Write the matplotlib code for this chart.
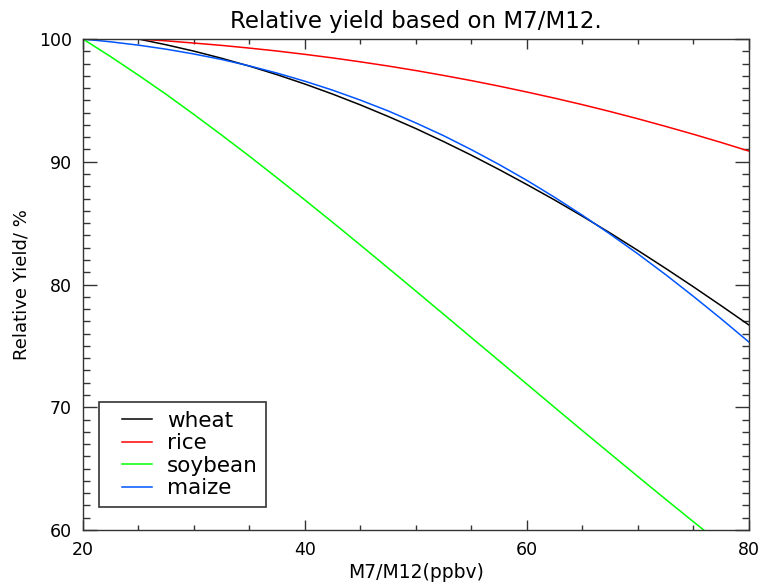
import numpy as np
import matplotlib
matplotlib.use('Agg')
from matplotlib import pyplot as plt
from matplotlib.ticker import MultipleLocator
from matplotlib.legend_handler import HandlerLine2D

# relative yield (%) vs. M7/M12 ozone metric (ppbv), every 2.5 ppbv
m_wheat = [25, 27.5, 30, 32.5, 35, 37.5, 40, 42.5, 45, 47.5, 50, 52.5,
           55, 57.5, 60, 62.5, 65, 67.5, 70, 72.5, 75, 77.5, 80]
y_wheat = [100.00, 99.53, 99.01, 98.43, 97.79, 97.09, 96.33, 95.51, 94.63, 93.69, 92.70, 91.64,
           90.53, 89.36, 88.14, 86.88, 85.56, 84.19, 82.77, 81.31, 79.81, 78.27, 76.70]

m_rice = m_wheat
y_rice = [100.00, 99.85, 99.67, 99.48, 99.26, 99.02, 98.75, 98.46, 98.14, 97.80, 97.43, 97.03,
          96.61, 96.16, 95.68, 95.18, 94.65, 94.09, 93.50, 92.88, 92.24, 91.57, 90.87]

m_soy = [20, 22.5, 25, 27.5, 30, 32.5, 35, 37.5, 40, 42.5, 45, 47.5, 50, 52.5,
         55, 57.5, 60, 62.5, 65, 67.5, 70, 72.5, 75, 77.5, 80]
y_soy = [100.00, 98.56, 97.05, 95.49, 93.85, 92.17, 90.45, 88.68, 86.88, 85.06, 83.21, 81.34,
         79.46, 77.57, 75.67, 73.78, 71.88, 69.98, 68.09, 66.22, 64.35, 62.50, 60.67, 58.86, 57.06]

m_maize = m_soy
y_maize = [100.00, 99.77, 99.50, 99.17, 98.78, 98.33, 97.81, 97.22, 96.56, 95.83, 95.02, 94.14,
           93.16, 92.12, 90.98, 89.77, 88.48, 87.10, 85.64, 84.10, 82.49, 80.80, 79.03, 77.20, 75.31]

crops = ['wheat', 'rice', 'soybean', 'maize']
colors = ['#000000', '#ff0000', '#00ff00', '#0055ff']

plt.rcParams['font.family'] = ['DejaVu Sans']

fig = plt.figure(figsize=(7.62, 5.85), dpi=100)
ax = fig.add_axes([0.1089, 0.094, 0.874, 0.8393])

series = [(m_wheat, y_wheat), (m_rice, y_rice), (m_soy, y_soy), (m_maize, y_maize)]
for (m, y), name, c in zip(series, crops, colors):
    ax.plot(m, y, color=c, lw=1.1, label=name)

ax.set_xlim(20, 80)
ax.set_ylim(60, 100)
ax.xaxis.set_major_locator(MultipleLocator(20))
ax.xaxis.set_minor_locator(MultipleLocator(5))
ax.yaxis.set_major_locator(MultipleLocator(10))
ax.yaxis.set_minor_locator(MultipleLocator(1))
ax.tick_params(which='both', direction='in', top=True, right=True,
               color='#333333', width=1.0, labelsize=12.5, pad=8)
ax.tick_params(axis='x', which='major', length=7.5)
ax.tick_params(axis='x', which='minor', length=3.6)
ax.tick_params(axis='y', which='major', length=10)
ax.tick_params(axis='y', which='minor', length=5)
for s in ax.spines.values():
    s.set_color('#333333')
    s.set_linewidth(1.0)

ax.set_title('Relative yield based on M7/M12.', fontsize=16.5, pad=8)
ax.set_xlabel('M7/M12(ppbv)', fontsize=13.5, labelpad=3)
ax.set_ylabel('Relative Yield/ %', fontsize=13, labelpad=6)

# short legend lines, pushed in from the frame
leg = ax.legend(loc='lower left', bbox_to_anchor=(0.024, 0.047), fontsize=15.5,
                frameon=True, fancybox=False, edgecolor='black',
                handlelength=2.05, handletextpad=0.7, labelspacing=0.12,
                borderpad=0.4, borderaxespad=0,
                handler_map={plt.Line2D: HandlerLine2D(xpad=0.65)})
leg.get_frame().set_linewidth(1.2)

fig.savefig('out.png', dpi=100)
